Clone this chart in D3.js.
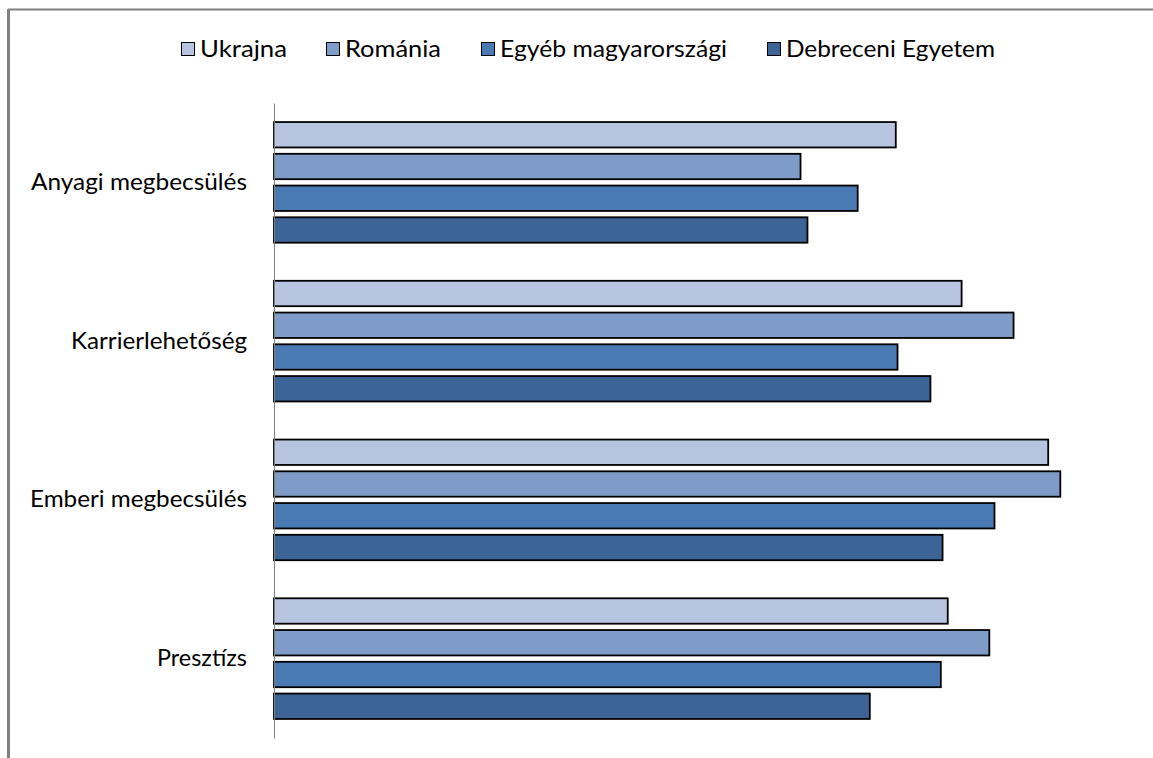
<!DOCTYPE html>
<html>
<head>
<meta charset="utf-8">
<script src="https://cdn.jsdelivr.net/npm/d3@7"></script>
<style>
  html, body { margin: 0; padding: 0; background: #fff; }
  svg { display: block; }
  text { font-family: Lato, "Open Sans", sans-serif; fill: #000; }
</style>
</head>
<body>
<svg id="chart" width="1153" height="758"></svg>
<script>
// Motivation factors (categories, top to bottom)
const categories = ["Anyagi megbecsülés", "Karrierlehetőség", "Emberi megbecsülés", "Presztízs"];
// Respondent groups (legend order, also bar order inside a group)
const seriesNames = ["Ukrajna", "Románia", "Egyéb magyarországi", "Debreceni Egyetem"];
// Mean scores per group, one entry per category
const ukrajna    = [3.59, 3.97, 4.47, 3.89];
const romania    = [3.04, 4.27, 4.54, 4.13];
const egyeb      = [3.37, 3.60, 4.16, 3.85];
const debreceni  = [3.08, 3.79, 3.86, 3.44];
const seriesValues = [ukrajna, romania, egyeb, debreceni];
const colors = ["#B7C4DF", "#7F9CC8", "#4A7AB3", "#3D6496"];

const svg = d3.select("#chart");

// Outer frame (top and left edges visible)
svg.append("line").attr("x1", 8).attr("x2", 1153).attr("y1", 9.5).attr("y2", 9.5)
  .attr("stroke", "#808080").attr("stroke-width", 2);
svg.append("line").attr("x1", 8.5).attr("x2", 8.5).attr("y1", 9).attr("y2", 758)
  .attr("stroke", "#808080").attr("stroke-width", 3);

const x = d3.scaleLinear().domain([0, 5]).range([274, 1140]);
const y = d3.scaleBand().domain(categories).range([103, 738]).paddingInner(0).paddingOuter(0);
const yInner = d3.scaleBand().domain(seriesNames).range([0, y.bandwidth()])
  .paddingInner(0.2).paddingOuter(0.6);

// Bars
const groups = svg.append("g").selectAll("g")
  .data(categories)
  .join("g")
  .attr("transform", d => `translate(0,${y(d)})`);

groups.selectAll("rect")
  .data((c, ci) => seriesNames.map((s, si) => ({ s, si, v: seriesValues[si][ci] })))
  .join("rect")
  .attr("x", x(0))
  .attr("y", d => yInner(d.s))
  .attr("width", d => x(d.v) - x(0))
  .attr("height", yInner.bandwidth())
  .attr("fill", d => colors[d.si])
  .attr("stroke", "#000")
  .attr("stroke-width", 1.8);

// Category axis (line only, labels to the left)
const axis = d3.axisLeft(y).tickSize(0).tickPadding(27);
const axisG = svg.append("g").attr("transform", `translate(${x(0)},0)`).call(axis);
axisG.select(".domain").attr("stroke", "#808080").attr("stroke-width", 1);
const labelWidths = { "Anyagi megbecsülés": 216, "Karrierlehetőség": 176, "Emberi megbecsülés": 217, "Presztízs": 90 };
axisG.selectAll(".tick text")
  .attr("font-family", "Lato, Open Sans, sans-serif")
  .attr("font-size", 23)
  .attr("fill", "#000")
  .attr("dy", "0.33em")
  .attr("textLength", d => labelWidths[d])
  .attr("lengthAdjust", "spacingAndGlyphs");

// Legend
const legendX = [181, 326, 481, 767];
const legendW = [87, 96, 227, 209];
const legend = svg.append("g").selectAll("g")
  .data(seriesNames)
  .join("g")
  .attr("transform", (d, i) => `translate(${legendX[i]},0)`);
legend.append("rect")
  .attr("x", 0.5).attr("y", 42.5).attr("width", 13).attr("height", 13)
  .attr("fill", (d, i) => colors[i])
  .attr("stroke", "#000").attr("stroke-width", 1);
legend.append("text")
  .attr("x", 19).attr("y", 57)
  .attr("font-size", 23)
  .attr("textLength", (d, i) => legendW[i])
  .attr("lengthAdjust", "spacingAndGlyphs")
  .text(d => d);
</script>
</body>
</html>
